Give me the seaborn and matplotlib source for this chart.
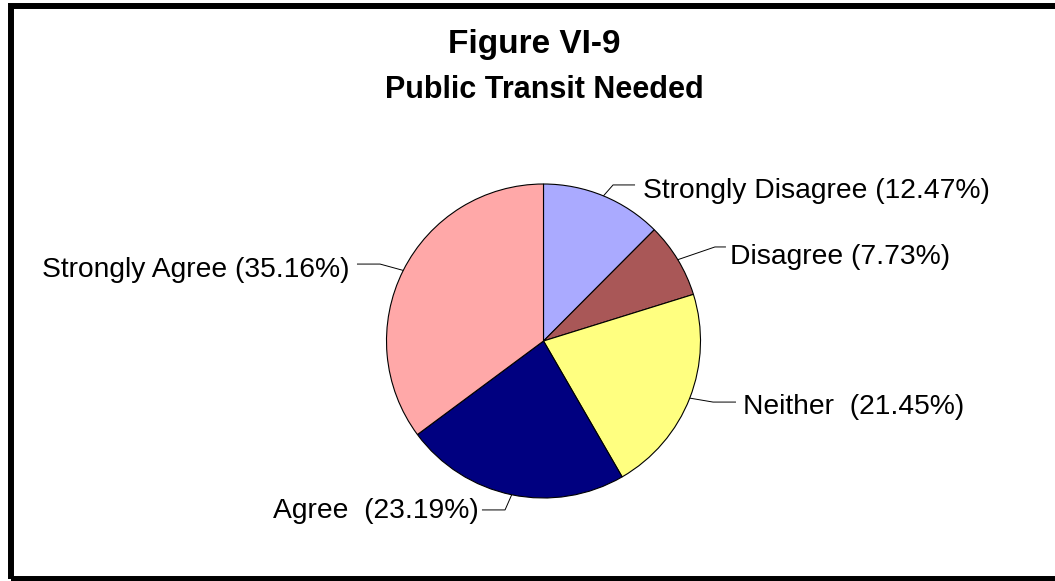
import matplotlib
matplotlib.use("Agg")
import matplotlib.pyplot as plt
from matplotlib.patches import Rectangle
import numpy as np
import seaborn as sns

# Survey responses: share of respondents (%)
categories = ["Strongly Disagree", "Disagree", "Neither", "Agree", "Strongly Agree"]
shares = [12.47, 7.73, 21.45, 23.19, 35.16]
label_texts = [
    "Strongly Disagree (12.47%)",
    "Disagree (7.73%)",
    "Neither  (21.45%)",
    "Agree  (23.19%)",
    "Strongly Agree (35.16%)",
]
slice_colors = ["#AAAAFF", "#A95757", "#FFFF80", "#000080", "#FFA8A8"]

sns.set_theme(style="white")
plt.rcParams["font.family"] = ["Liberation Sans", "DejaVu Sans"]
plt.rcParams["text.color"] = "black"

W, H, DPI = 1055, 581, 100
fig = plt.figure(figsize=(W / DPI, H / DPI), dpi=DPI)
fig.patch.set_facecolor("white")

# Pie centre and radius in pixels; axes span the whole figure so one data unit = R pixels
CX, CY, R = 543.5, 341.0, 157.0
ax = fig.add_axes([0, 0, 1, 1])
wedges, _ = ax.pie(
    shares,
    colors=slice_colors,
    startangle=90,
    counterclock=False,
    radius=1.0,
    wedgeprops=dict(edgecolor="black", linewidth=0.8),
)
ax.set_xlim(-CX / R, (W - CX) / R)
ax.set_ylim(-(H - CY) / R, CY / R)
ax.set_aspect("equal", adjustable="datalim")
ax.axis("off")

# Leader-line elbow / end points and text anchors (data units)
elbows = [(0.443, 0.994), (1.092, 0.599), (1.080, -0.389), (-0.245, -1.076), (-1.041, 0.490)]
ends = [(0.583, 0.994), (1.162, 0.599), (1.226, -0.389), (-0.392, -1.076), (-1.188, 0.490)]
text_pos = [(0.634, 0.911), (1.188, 0.490), (1.271, -0.465), (-1.723, -1.127), (-3.194, 0.408)]

for w, (ex, ey), (hx, hy), (tx, ty), txt in zip(wedges, elbows, ends, text_pos, label_texts):
    mid = np.deg2rad((w.theta1 + w.theta2) / 2.0)
    sx, sy = np.cos(mid), np.sin(mid)
    ax.plot([sx, ex, hx], [sy, ey, hy], color="black", linewidth=0.7,
            solid_capstyle="butt", clip_on=False)
    ax.text(tx, ty, txt, fontsize=20.3, ha="left", va="baseline", color="black")

# Title
fig.text(534 / W, 1 - 53.5 / H, "Figure VI-9", ha="center", va="baseline",
         fontsize=24, fontweight="bold", color="black")
fig.text(544 / W, 1 - 98 / H, "Public Transit Needed", ha="center", va="baseline",
         fontsize=22, fontweight="bold", color="black")

# Outer frame (left, top and bottom edges visible; right edge runs off the canvas)
fig.patches.append(Rectangle((11 / W, 2.5 / H), (W + 20) / W, (H - 8.5) / H,
                             transform=fig.transFigure, fill=False,
                             edgecolor="black", linewidth=4.3, zorder=10))

fig.savefig("out.png", dpi=DPI, facecolor="white")
